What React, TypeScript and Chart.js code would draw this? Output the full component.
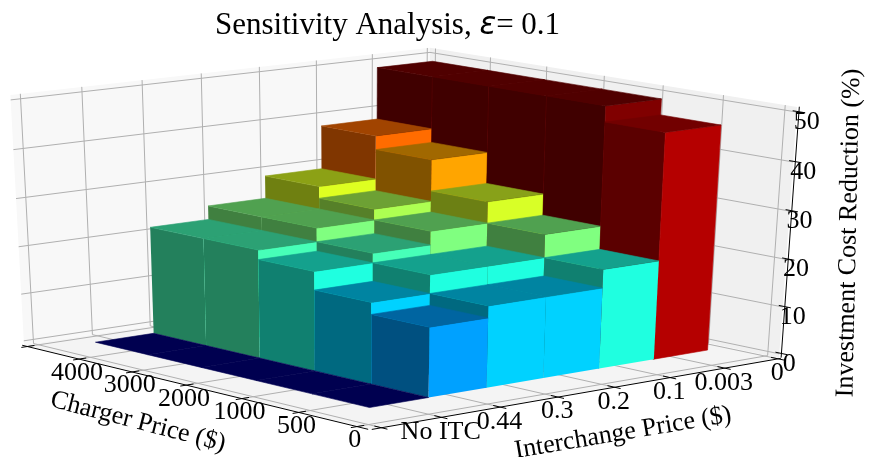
import React, { useEffect, useRef } from "react";
import { Chart, registerables } from "chart.js";

Chart.register(...registerables);

// ---- data: investment cost reduction (%), one list per charger price
const interchangeLabels = ["No ITC", "0.44", "0.3", "0.2", "0.1", "0.003"];
const chargerLabels = ["500", "1000", "2000", "3000", "4000"];
const charger500 = [0, 14.7, 17.2, 17.2, 21.1, 47.7];
const charger1000 = [0, 17.2, 21.1, 21.1, 26, 51];
const charger2000 = [0, 21.1, 23.1, 26, 30.5, 51];
const charger3000 = [0, 23.1, 26, 28.3, 37.1, 51];
const charger4000 = [0, 23.1, 26, 30.8, 40, 51];
const heights = [charger500, charger1000, charger2000, charger3000, charger4000];

const chargerTicks = ["0", "500", "1000", "2000", "3000", "4000", ""];
const interchangeTicks = ["", "No ITC", "0.44", "0.3", "0.2", "0.1", "0.003", "0"];
const heightTicks = [0, 10, 20, 30, 40, 50];
const BAR_SCALE = 0.985;

// ---- camera: box limits and where the box corners land on the picture
const XL = -0.89, XH = 5.4, YL = -0.86, YH = 6.35, ZL = 0, ZT = 0.9, ZH = 51.9;
const C0 = [370, 429], C1 = [24, 345], C2 = [427, 284], C3 = [779, 358];
const VP = [349, 6315];

const dx1 = C1[0] - C2[0], dx2 = C3[0] - C2[0], sx = C0[0] - C1[0] + C2[0] - C3[0];
const dy1 = C1[1] - C2[1], dy2 = C3[1] - C2[1], sy = C0[1] - C1[1] + C2[1] - C3[1];
const den = dx1 * dy2 - dx2 * dy1;
const g = (sx * dy2 - dx2 * sy) / den, h = (dx1 * sy - sx * dy1) / den;
const a = C1[0] - C0[0] + g * C1[0], b = C3[0] - C0[0] + h * C3[0], c = C0[0];
const d = C1[1] - C0[1] + g * C1[1], e = C3[1] - C0[1] + h * C3[1], f = C0[1];
const wRight = h + 1;
const zk = (-0.04043 * wRight) / ZH;

function proj(x: number, y: number, z: number) {
  const s = (x - XL) / (XH - XL), t = (y - YL) / (YH - YL);
  const w = g * s + h * t + 1, U = a * s + b * t + c, V = d * s + e * t + f, k = zk * z;
  return { x: (U + k * VP[0]) / (w + k), y: (V + k * VP[1]) / (w + k) };
}

function jet(v: number) {
  const cl = (q: number) => Math.max(0, Math.min(1, q));
  return [cl(1.5 - Math.abs(4 * v - 3)), cl(1.5 - Math.abs(4 * v - 2)), cl(1.5 - Math.abs(4 * v - 1))];
}
function shade(v: number, m: number) {
  const [r, gg, bb] = jet(v);
  return `rgb(${Math.round(r * 255 * m)},${Math.round(gg * 255 * m)},${Math.round(bb * 255 * m)})`;
}
// colour position of a value: jet over 0..52, saturating towards the top of the range
function colourOf(v: number) {
  return v <= 40 ? v / 52 : Math.min(1, 0.77 + ((v - 40) / 10) * 0.23);
}

type P = [number, number, number];
function poly(pts: P[], color: string, seal = false) {
  const p = pts.map((q) => proj(q[0], q[1], q[2]));
  return {
    type: "scatter", showLine: true, data: [...p, p[0]], fill: "shape", backgroundColor: color,
    borderColor: seal ? color : "transparent", borderWidth: seal ? 0.6 : 0, pointRadius: 0, tension: 0, clip: false,
  };
}
function line(pts: P[], color: string, width: number) {
  return {
    type: "scatter", showLine: true, data: pts.map((q) => proj(q[0], q[1], q[2])), fill: false,
    borderColor: color, borderWidth: width, pointRadius: 0, tension: 0, clip: false,
  };
}

function buildDatasets() {
  const out: any[] = [];
  // panes
  out.push(poly([[XH, YL, ZL], [XH, YH, ZL], [XH, YH, ZH], [XH, YL, ZH]], "#f8f8f8"));
  out.push(poly([[XL, YH, ZL], [XH, YH, ZL], [XH, YH, ZH], [XL, YH, ZH]], "#f0f0f0"));
  out.push(poly([[XL, YL, ZL], [XH, YL, ZL], [XH, YH, ZL], [XL, YH, ZL]], "#f4f4f4"));
  // grid
  const grid = "#b0b0b0";
  chargerTicks.forEach((_, i) => {
    const X = -0.7 + i;
    out.push(line([[X, YL, ZL], [X, YH, ZL], [X, YH, ZH]], grid, 1));
  });
  interchangeTicks.forEach((_, i) => {
    const Y = -0.7 + i;
    out.push(line([[XL, Y, ZL], [XH, Y, ZL], [XH, Y, ZH]], grid, 1));
  });
  heightTicks.forEach((z) => {
    out.push(line([[XL, YH, z + ZT], [XH, YH, z + ZT], [XH, YL, z + ZT]], grid, 1));
  });
  // axes
  out.push(line([[XH, YL - 0.03, ZL], [XL, YL - 0.03, ZL]], "#000", 1));
  out.push(line([[XL - 0.03, YL, ZL], [XL - 0.03, YH, ZL]], "#000", 1));
  out.push(line([[XL, YH + 0.04, ZL], [XL, YH + 0.04, ZH]], "#000", 1));
  chargerTicks.forEach((_, i) => {
    const X = -0.7 + i;
    out.push(line([[X, YL - 0.13, ZL], [X, YL + 0.09, ZL]], "#000", 1));
  });
  interchangeTicks.forEach((_, i) => {
    const Y = -0.7 + i;
    out.push(line([[XL - 0.13, Y, ZL], [XL + 0.09, Y, ZL]], "#000", 1));
  });
  heightTicks.forEach((z) => {
    out.push(line([[XL - 0.1, YH + 0.04, z + ZT], [XL + 0.1, YH + 0.04, z + ZT]], "#000", 1));
  });
  // bars, far to near
  for (let r = chargerLabels.length - 1; r >= 0; r--) {
    for (let q = interchangeLabels.length - 1; q >= 0; q--) {
      const raw = heights[r][q];
      const v = raw * BAR_SCALE;
      const col = colourOf(raw);
      const dark = col > 0.9 || col < 0.05;
      if (v > 0) {
        out.push(poly([[r, q, 0], [r + 1, q, 0], [r + 1, q, v], [r, q, v]], shade(col, 0.5), dark));
        out.push(poly([[r, q, 0], [r, q + 1, 0], [r, q + 1, v], [r, q, v]], shade(col, 1), dark));
      }
      out.push(poly([[r, q, v], [r + 1, q, v], [r + 1, q + 1, v], [r, q + 1, v]], shade(col, 0.63), true));
    }
  }
  return out.reverse();
}

const FONT = '"Liberation Serif"';
const textPlugin = {
  id: "texts",
  afterDraw(chart: any) {
    const ctx = chart.ctx;
    ctx.save();
    ctx.fillStyle = "#000";
    ctx.textAlign = "center";
    ctx.textBaseline = "middle";
    const at = (s: string, x: number, y: number, size: number, rot = 0) => {
      ctx.save();
      ctx.translate(x, y);
      ctx.rotate((rot * Math.PI) / 180);
      ctx.font = `${size}px ${FONT}`;
      ctx.fillText(s, 0, 0);
      ctx.restore();
    };
    chargerTicks.forEach((s, i) => {
      const p = proj(-0.7 + i, YL, ZL);
      at(s, p.x - 4, p.y + 14, 26);
    });
    interchangeTicks.forEach((s, i) => {
      const p = proj(XL, -0.7 + i, ZL);
      at(s, p.x + 1, p.y + 15, 26);
    });
    heightTicks.forEach((z) => {
      const p = proj(XL, YH, z + ZT);
      at(String(z), p.x + 10, p.y + 10, 26);
    });
    at("Charger Price ($)", 138, 422, 26, 14.5);
    at("Interchange Price ($)", 623, 433, 26, -9.6);
    at("Investment Cost Reduction (%)", 849, 233, 26, -88.8);
    // title
    ctx.textAlign = "left";
    ctx.textBaseline = "alphabetic";
    ctx.font = `31px ${FONT}`;
    let x = 215;
    const base = 34;
    const part1 = "Sensitivity Analysis, ";
    ctx.fillText(part1, x, base);
    x += ctx.measureText(part1).width;
    ctx.font = 'oblique 31px "DejaVu Sans"';
    ctx.fillText("\u03b5", x, base);
    x += ctx.measureText("\u03b5").width;
    ctx.font = `31px ${FONT}`;
    ctx.fillText("= 0.1", x, base);
    ctx.restore();
  },
};

export default function App() {
  const ref = useRef<HTMLCanvasElement | null>(null);
  useEffect(() => {
    document.body.style.margin = "0";
    const chart = new Chart(ref.current as HTMLCanvasElement, {
      type: "scatter",
      data: { datasets: buildDatasets() },
      options: {
        animation: false,
        responsive: false,
        devicePixelRatio: 1,
        layout: { padding: 0 },
        plugins: { legend: { display: false }, tooltip: { enabled: false } },
        scales: {
          x: { type: "linear", min: 0, max: 871, display: false },
          y: { type: "linear", min: 0, max: 457, reverse: true, display: false },
        },
      },
      plugins: [textPlugin],
    } as any);
    return () => chart.destroy();
  }, []);
  return <canvas ref={ref} width={871} height={457} style={{ display: "block" }} />;
}
